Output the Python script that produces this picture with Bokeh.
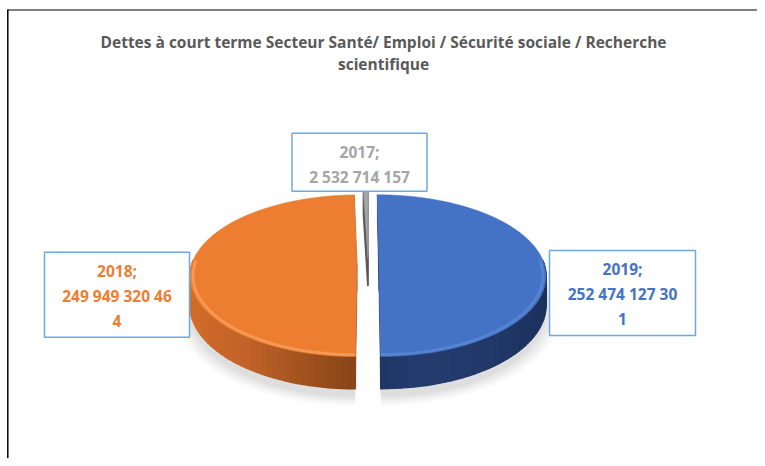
import numpy as np
from bokeh.plotting import figure
from bokeh.models import Range1d
from bokeh.core.properties import value
from bokeh.embed import file_html
from bokeh.resources import INLINE

# ---------------- data ----------------
title_lines = ["Dettes à court terme Secteur Santé/ Emploi / Sécurité sociale / Recherche",
               "scientifique"]
years = ["2019", "2018", "2017"]                      # clockwise from 12 o'clock
amounts = [252474127301, 249949320464, 2532714157]
slice_colors = ["#4472C4", "#ED7D31", "#A5A5A5"]

# ---------------- style / layout ----------------
W, H = 757, 458
FONT = value("Open Sans")
cx, cy = 367.5, 263.0
R = 165.0
k = 0.49
persp = 0.15
depth = 28.0
explode = 11.0

side_stops = {
    "2019": [(90, "#1a2d52"), (120, "#1d3360"), (150, "#22396a"), (170, "#233c6e"), (180, "#1f3664")],
    "2018": [(180, "#88441a"), (195, "#a0521e"), (215, "#c2622a"), (240, "#cf6a28"), (270, "#d8702c")],
    "2017": [(180, "#6f6f6f"), (270, "#8a8a8a")],
}
rim_light = {"2019": "#5b89d6", "2018": "#f6a25e", "2017": "#c8c8c8"}
face_dark = {"2019": "#1c3260", "2018": "#9a4e1c", "2017": "#5a5a5a"}

label_boxes = {  # center x, top, width, height (px)
    "2017": (359.0, 132.7, 135.0, 58.0),
    "2018": (116.5, 251.7, 145.0, 85.0),
    "2019": (622.0, 250.0, 146.0, 85.0),
}

p = figure(width=W, height=H, output_backend="svg", toolbar_location=None,
           x_range=Range1d(0, W), y_range=Range1d(H, 0),
           min_border=0)
p.axis.visible = False
p.grid.visible = False
p.outline_line_color = None
p.background_fill_color = "white"
p.border_fill_color = "white"


def hex2rgb(h):
    h = h.lstrip("#")
    return np.array([int(h[i:i + 2], 16) for i in (0, 2, 4)], dtype=float)


def rgb2hex(c):
    c = np.clip(np.round(c), 0, 255).astype(int)
    return "#%02x%02x%02x" % tuple(c)


def interp_color(stops, t):
    ts = [s[0] for s in stops]
    cs = [hex2rgb(s[1]) for s in stops]
    if t <= ts[0]:
        return rgb2hex(cs[0])
    if t >= ts[-1]:
        return rgb2hex(cs[-1])
    for i in range(len(ts) - 1):
        if ts[i] <= t <= ts[i + 1]:
            a = (t - ts[i]) / (ts[i + 1] - ts[i])
            return rgb2hex(cs[i] * (1 - a) + cs[i + 1] * a)


def proj(X, Y, Z=0.0):
    X = np.asarray(X, dtype=float)
    Y = np.asarray(Y, dtype=float)
    f = 1 + persp * Y / R
    return cx + X * f, cy + k * Y * f + Z * f


def rim(th_deg, ox, oy, r=R, Z=0.0):
    t = np.radians(th_deg)
    return proj(ox + r * np.sin(t), oy - r * np.cos(t), Z)


# ---------------- slice angles ----------------
total = float(sum(amounts))
bounds = []
acc = 0.0
for v in amounts:
    a0 = acc / total * 360.0
    acc += v
    a1 = acc / total * 360.0
    bounds.append((a0, a1))

offsets = []
for a0, a1 in bounds:
    am = np.radians((a0 + a1) / 2)
    offsets.append((explode * np.sin(am), -explode * np.cos(am)))

# ---------------- shadows (per slice, soft) ----------------
for i in range(len(years)):
    a0, a1 = bounds[i]
    ox, oy = offsets[i]
    ths = np.linspace(a0, a1, max(3, int((a1 - a0)) + 2))
    for grow, alpha in [(12, 0.025), (8, 0.03), (4, 0.035), (0, 0.04)]:
        sx, sy = rim(ths, ox, oy + 6.0, r=R + grow, Z=depth + 4)
        axp, ayp = proj(ox, oy + 6.0, depth + 4)
        p.patch([float(axp)] + list(sx), [float(ayp)] + list(sy),
                fill_color="black", fill_alpha=alpha, line_color=None)

# back slices first
order = sorted(range(len(years)), key=lambda i: -np.cos(np.radians((bounds[i][0] + bounds[i][1]) / 2)), reverse=True)

for i in order:
    yr = years[i]
    a0, a1 = bounds[i]
    ox, oy = offsets[i]

    # radial faces
    for a in (a0, a1):
        t = np.radians(a)
        X1, Y1 = ox + R * np.sin(t), oy - R * np.cos(t)
        xs0, ys0 = proj([ox, X1], [oy, Y1], 0.0)
        xs1, ys1 = proj([X1, ox], [Y1, oy], depth)
        p.patch(list(xs0) + list(xs1), list(ys0) + list(ys1),
                fill_color=face_dark[yr], line_color=face_dark[yr],
                line_width=1.6 if yr == "2017" else 0.5)

    # side strips (front part)
    lo, hi = max(a0, 88.0), min(a1, 272.0)
    if hi > lo:
        ths = np.arange(lo, hi + 0.001, 2.0)
        if ths[-1] < hi:
            ths = np.append(ths, hi)
        strips = []
        for j in range(len(ths) - 1):
            ta, tb = ths[j], ths[j + 1]
            xa, ya = rim([ta, tb], ox, oy)
            xb, yb = rim([tb, ta], ox, oy, Z=depth)
            col = interp_color(side_stops[yr], (ta + tb) / 2)
            strips.append((-np.cos(np.radians((ta + tb) / 2)), list(xa) + list(xb), list(ya) + list(yb), col))
        strips.sort(key=lambda s: s[0])
        for _, xs, ys, col in strips:
            p.patch(xs, ys, fill_color=col, line_color=col, line_width=1.4, line_join="round")

    # top face
    ths = np.linspace(a0, a1, max(3, int((a1 - a0) * 2) + 2))
    tx, ty = rim(ths, ox, oy)
    ax, ay = proj(ox, oy)
    p.patch([float(ax)] + list(tx), [float(ay)] + list(ty),
            fill_color=slice_colors[i], line_color=slice_colors[i], line_width=0.5)

    # rim highlight (bevel)
    if hi > lo:
        ths = np.linspace(lo, hi, 120)
        hx, hy = rim(ths, ox, oy, r=R - 3.0)
        p.line(hx, hy, line_color=rim_light[yr], line_width=3.0, line_alpha=0.75)

# ---------------- labels ----------------
for i, yr in enumerate(years):
    bx, btop, bw, bh = label_boxes[yr]
    p.quad(left=[bx - bw / 2], right=[bx + bw / 2], top=[btop], bottom=[btop + bh],
           fill_color="white", line_color="#6FA8DC", line_width=1.5)
    num = "{:,}".format(amounts[i]).replace(",", " ")
    lines = [yr + ";"] + [num[j:j + 14] for j in range(0, len(num), 14)]
    p.text(x=[bx] * len(lines), y=[btop + 18.5 + 25.0 * n for n in range(len(lines))], text=lines,
           text_align="center", text_baseline="middle", text_color=slice_colors[i],
           text_font=FONT, text_font_style="bold", text_font_size="15.5px")

# ---------------- title ----------------
p.text(x=[383, 383], y=[41, 63], text=title_lines, text_align="center", text_baseline="middle",
       text_color="#595959", text_font=FONT, text_font_style="bold", text_font_size="15.5px")

# ---------------- frame ----------------
p.segment(x0=[7], y0=[9.5], x1=[W], y1=[9.5], line_color="#808080", line_width=2)
p.segment(x0=[7.3], y0=[9], x1=[7.3], y1=[H], line_color="black", line_width=1.5)

open("out.html", "w").write(file_html(p, INLINE))
